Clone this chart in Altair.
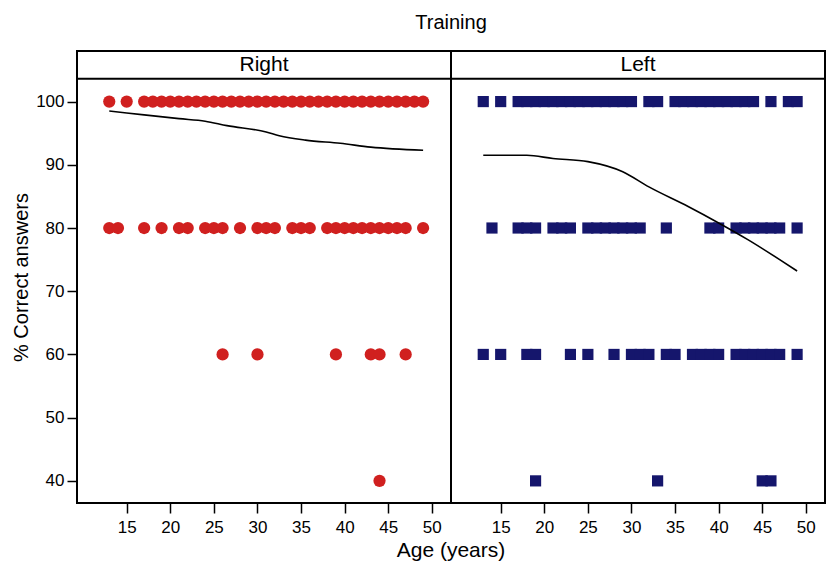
import altair as alt
import pandas as pd

FONT = "Liberation Sans"

# ---------------- data ----------------
right_age_100 = [13, 15, 17, 18, 19, 20, 21, 22, 23, 24, 25, 26, 27, 28, 29, 30, 31, 32, 33,
                 34, 35, 36, 37, 38, 39, 40, 41, 42, 43, 44, 45, 46, 47, 48, 49]
right_age_80 = [13, 14, 17, 19, 21, 22, 24, 25, 26, 28, 30, 31, 32, 34, 35, 36,
                38, 39, 40, 41, 42, 43, 44, 45, 46, 47, 49]
right_age_60 = [26, 30, 39, 43, 44, 47]
right_age_40 = [44]

left_age_100 = [13, 15, 17, 18, 19, 20, 21, 22, 23, 24, 25, 26, 27, 28, 29, 30, 32, 33,
                35, 36, 37, 38, 39, 40, 41, 42, 43, 44, 46, 48, 49]
left_age_80 = [14, 17, 18, 19, 21, 22, 23, 25, 26, 27, 28, 29, 30, 31, 34, 39, 40,
               42, 43, 44, 45, 46, 47, 49]
left_age_60 = [13, 15, 18, 19, 23, 25, 28, 30, 31, 32, 34, 35, 37, 38, 39, 40,
               42, 43, 44, 45, 46, 47, 49]
left_age_40 = [19, 33, 45, 46]

right_fit_age = [13, 15, 17, 21, 24, 26.5, 31, 32.5, 35.5, 39.5, 43, 49]
right_fit_val = [98.5, 98.2, 97.9, 97.3, 96.9, 96.2, 95.2, 94.6, 93.9, 93.4, 92.8, 92.3]
left_fit_age = [13, 18, 21, 25, 29, 32, 36.5, 40, 43.3, 47, 49]
left_fit_val = [91.5, 91.5, 91.0, 90.5, 88.9, 86.5, 83.4, 80.8, 78.2, 75.0, 73.2]

panel_names = ["Right", "Left"]
x_ticks = [15, 20, 25, 30, 35, 40, 45, 50]
y_ticks = [40, 50, 60, 70, 80, 90, 100]

RED = "#D0201F"
NAVY = "#15166C"

W, H = 374, 452
X_DOM = [9.3, 52.2]
Y_DOM = [36.5, 108.0]
STRIP_LINE = 103.6
STRIP_TEXT = 105.8


def points_frame(levels):
    rows = []
    for score, ages in levels:
        for a in ages:
            rows.append({"age": a, "score": score})
    return pd.DataFrame(rows)


right_pts = points_frame([(100, right_age_100), (80, right_age_80),
                          (60, right_age_60), (40, right_age_40)])
left_pts = points_frame([(100, left_age_100), (80, left_age_80),
                         (60, left_age_60), (40, left_age_40)])
right_fit = pd.DataFrame({"age": right_fit_age, "score": right_fit_val})
left_fit = pd.DataFrame({"age": left_fit_age, "score": left_fit_val})

xscale = alt.Scale(domain=X_DOM, nice=False, zero=False)
yscale = alt.Scale(domain=Y_DOM, nice=False, zero=False)

x_axis = alt.Axis(values=x_ticks, title=None, grid=False, domain=False,
                  tickSize=10, tickColor="black", tickWidth=1.5,
                  labelFontSize=17, labelFont=FONT, labelColor="black", labelPadding=6)
y_axis = alt.Axis(values=y_ticks, title="% Correct answers", grid=False, domain=False,
                  tickSize=10, tickColor="black", tickWidth=1.5,
                  labelFontSize=17, labelFont=FONT, labelColor="black", labelPadding=3,
                  titleFontSize=20, titleFont=FONT, titleFontWeight="normal",
                  titleColor="black", titlePadding=4)


def panel(pts, fit, name, shape, color, size, first):
    yax = y_axis if first else None
    x = alt.X("age:Q", scale=xscale, axis=x_axis)
    y = alt.Y("score:Q", scale=yscale, axis=yax)
    p = alt.Chart(pts).mark_point(shape=shape, filled=True, opacity=1, size=size,
                                  color=color).encode(x=x, y=y)
    ln = alt.Chart(fit).mark_line(color="black", strokeWidth=1.6,
                                  interpolate="monotone").encode(
        x=alt.X("age:Q", scale=xscale, axis=x_axis),
        y=alt.Y("score:Q", scale=yscale, axis=yax))
    strip_df = pd.DataFrame({"label": [name], "pos": [STRIP_TEXT], "sep": [STRIP_LINE]})
    sep = alt.Chart(strip_df).mark_rule(color="black", strokeWidth=2).encode(
        y=alt.Y("sep:Q", scale=yscale, axis=yax))
    lab = alt.Chart(strip_df).mark_text(font=FONT, fontSize=21, color="black",
                                        baseline="middle").encode(
        x=alt.value(W / 2), y=alt.Y("pos:Q", scale=yscale, axis=yax), text="label:N")
    layers = [p, ln, sep, lab]
    if first:
        t = alt.Chart(pd.DataFrame({"t": ["Training"]})).mark_text(
            font=FONT, fontSize=20, color="black", baseline="middle").encode(
            x=alt.value(W), y=alt.value(-28), text="t:N")
        xt = alt.Chart(pd.DataFrame({"t": ["Age (years)"]})).mark_text(
            font=FONT, fontSize=21, color="black", baseline="middle").encode(
            x=alt.value(W), y=alt.value(H + 48), text="t:N")
        layers += [t, xt]
    return alt.layer(*layers).properties(width=W, height=H)


chart = alt.hconcat(
    panel(right_pts, right_fit, panel_names[0], "circle", RED, 150, True),
    panel(left_pts, left_fit, panel_names[1], "square", NAVY, 125, False),
    spacing=0,
    bounds="flush",
).configure_view(stroke="black", strokeWidth=2).properties(
    padding={"top": 4, "left": 2, "right": 0, "bottom": 0},
    background="white",
)

chart.save("out.html", embed_options={"renderer": "svg", "actions": False})
